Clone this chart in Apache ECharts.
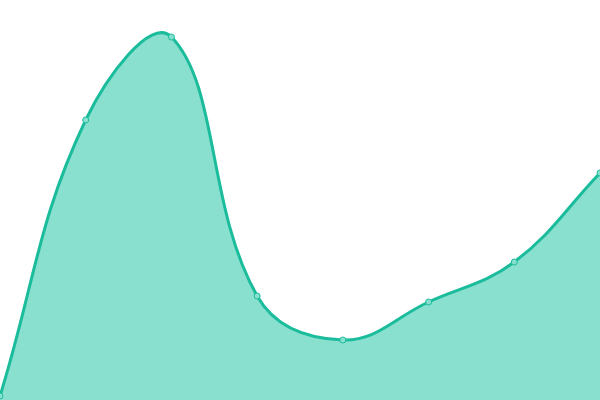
<!DOCTYPE html>
<html>
<head>
<meta charset="utf-8">
<style>html,body{margin:0;padding:0;background:#fff;}#main{width:600px;height:400px;}</style>
<script src="https://cdn.jsdelivr.net/npm/echarts@6/dist/echarts.min.js"></script>
</head>
<body>
<div id="main"></div>
<script>
var categories = ['A', 'B', 'C', 'D', 'E', 'F', 'G', 'H'];
var values = [4, 280, 363, 104, 60, 98, 138, 227];

var LINE_COLOR = '#1abc9c';
var FILL_COLOR = '#8ae0cf';
var TENSION = 0.4;

function splinePath(pts, area) {
  var n = pts.length;
  var cps = [];
  for (var i = 0; i < n; i++) {
    var cur = pts[i];
    var prev = pts[i - 1] || cur;
    var next = pts[i + 1] || cur;
    var d01 = Math.hypot(cur[0] - prev[0], cur[1] - prev[1]);
    var d12 = Math.hypot(next[0] - cur[0], next[1] - cur[1]);
    var s01 = d01 / (d01 + d12);
    var s12 = d12 / (d01 + d12);
    if (!isFinite(s01)) s01 = 0;
    if (!isFinite(s12)) s12 = 0;
    var fa = TENSION * s01, fb = TENSION * s12;
    var dx = next[0] - prev[0], dy = next[1] - prev[1];
    cps.push({
      p: [cur[0] - fa * dx, cur[1] - fa * dy],
      n: [cur[0] + fb * dx, cur[1] + fb * dy]
    });
  }
  var d = 'M' + pts[0][0] + ' ' + pts[0][1];
  for (var j = 1; j < n; j++) {
    var a = cps[j - 1].n, b = cps[j].p;
    d += ' C' + a[0] + ' ' + a[1] + ' ' + b[0] + ' ' + b[1] + ' ' + pts[j][0] + ' ' + pts[j][1];
  }
  if (area) {
    d += ' L' + pts[n - 1][0] + ' ' + area + ' L' + pts[0][0] + ' ' + area + ' Z';
  }
  return d;
}

var chart = echarts.init(document.getElementById('main'), null, {renderer: 'canvas'});
chart.setOption({
  animation: false,
  grid: {left: 0, right: 0, top: 0, bottom: 0},
  xAxis: {type: 'category', data: categories, boundaryGap: false, show: false},
  yAxis: {type: 'value', min: 0, max: 400, show: false},
  series: [{
    type: 'custom',
    clip: false,
    data: values.map(function (v, i) { return [i, v]; }),
    renderItem: function (params, api) {
      if (params.dataIndex !== 0) return null;
      var pts = values.map(function (v, i) { return api.coord([i, v]); });
      var base = api.coord([0, 0])[1];
      return {
        type: 'group',
        children: [{
          type: 'path',
          shape: {pathData: splinePath(pts, base)},
          style: {fill: FILL_COLOR, stroke: null}
        }, {
          type: 'path',
          shape: {pathData: splinePath(pts, null)},
          style: {fill: null, stroke: LINE_COLOR, lineWidth: 3}
        }]
      };
    }
  }, {
    type: 'scatter',
    data: values,
    symbol: 'circle',
    symbolSize: 6,
    itemStyle: {color: FILL_COLOR, borderColor: LINE_COLOR, borderWidth: 1, opacity: 1},
    z: 3
  }]
});
</script>
</body>
</html>
